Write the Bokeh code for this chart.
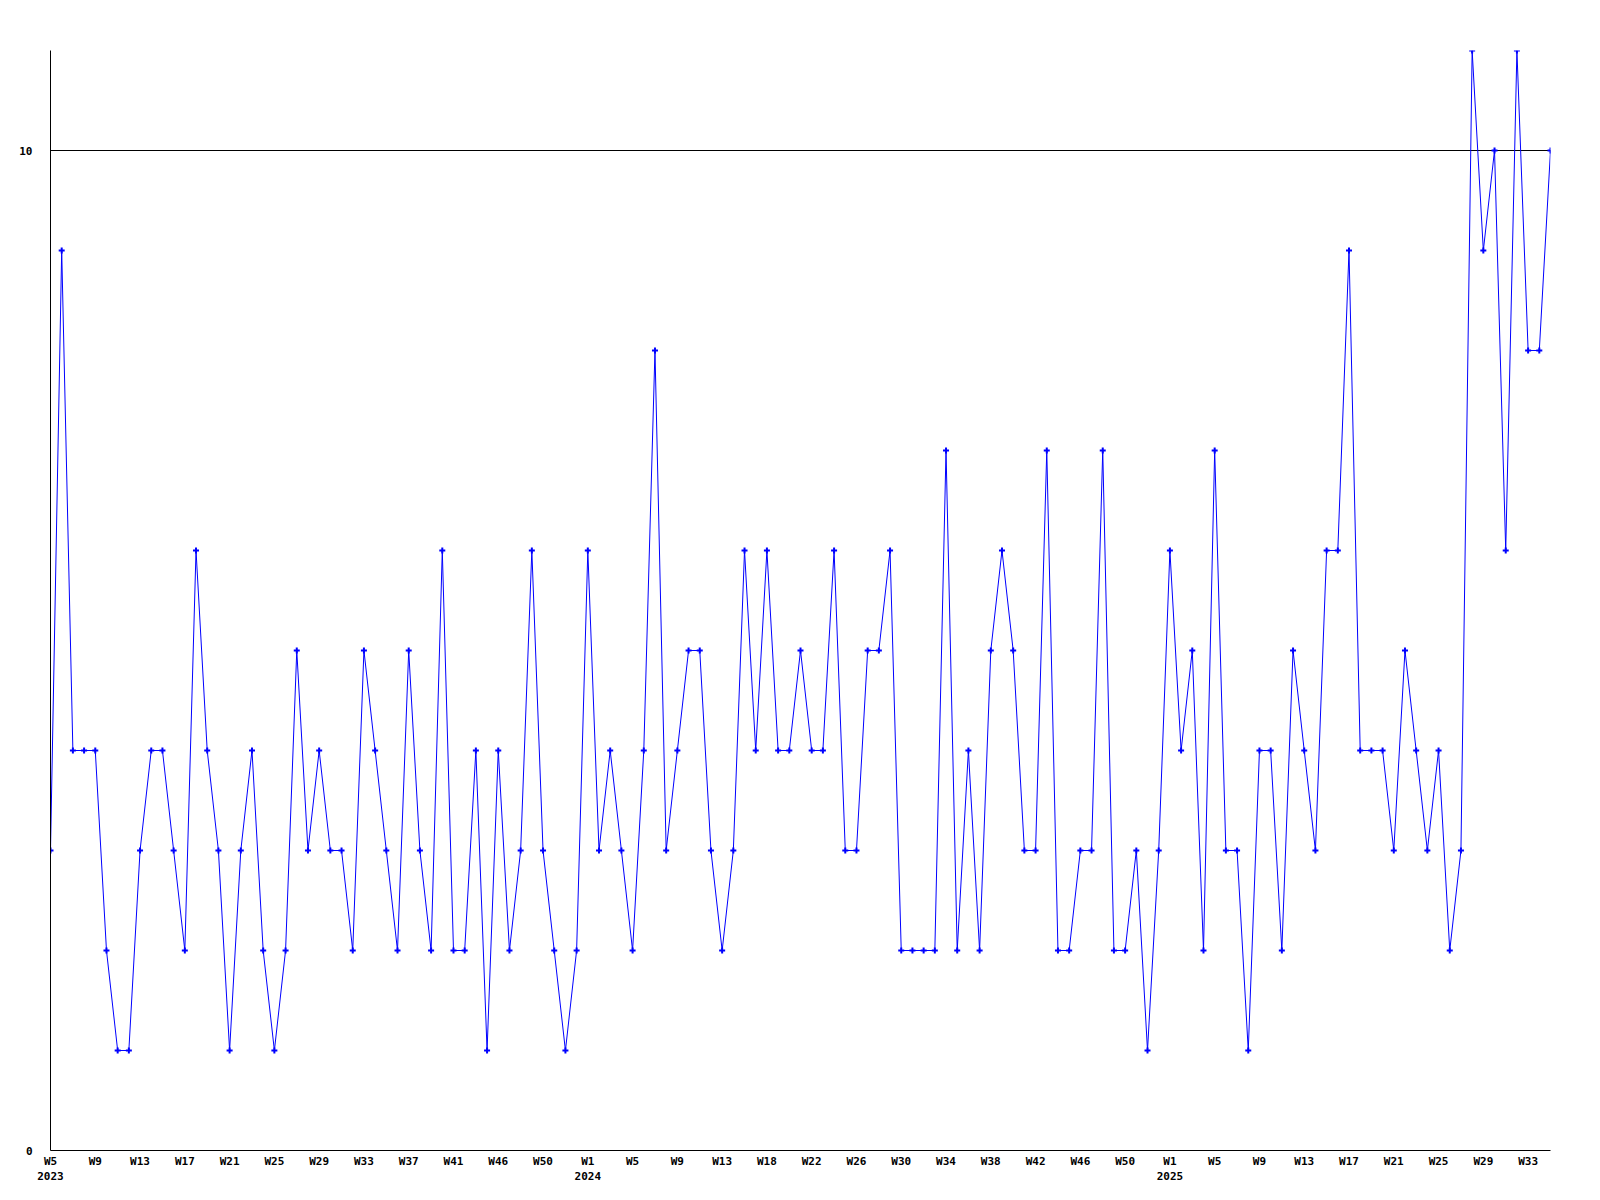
from bokeh.plotting import figure
from bokeh.models import Range1d, FixedTicker
from bokeh.embed import file_html
from bokeh.resources import INLINE

# weekly counts, one value per week starting at W5 2023
values = [3, 9, 4, 4, 4, 2, 1, 1, 3, 4, 4, 3, 2, 6, 4, 3, 1, 3, 4, 2,
          1, 2, 5, 3, 4, 3, 3, 2, 5, 4, 3, 2, 5, 3, 2, 6,
          2, 2, 4, 1, 4, 2, 3, 6, 3, 2, 1, 2, 6, 3, 4, 3, 2, 4, 8, 3,
          4, 5, 5, 3, 2, 3, 6, 4, 6, 4, 4, 5, 4, 4,
          6, 3, 3, 5, 5, 6, 2, 2, 2, 2, 7, 2, 4, 2, 5, 6, 5, 3, 3, 7,
          2, 2, 3, 3, 7, 2, 2, 3, 1, 3, 6, 4, 5, 2, 7,
          3, 3, 1, 4, 4, 2, 5, 4, 3, 6, 6, 9, 4, 4, 4, 3, 5, 4, 3, 4,
          2, 3, 11, 9, 10, 6, 11, 8, 8, 10]
weeks = list(range(len(values)))

tick_labels = ["W5\n2023", "W9", "W13", "W17", "W21", "W25", "W29", "W33", "W37", "W41", "W46", "W50",
               "W1\n2024", "W5", "W9", "W13", "W18", "W22", "W26", "W30", "W34", "W38", "W42", "W46", "W50",
               "W1\n2025", "W5", "W9", "W13", "W17", "W21", "W25", "W29", "W33"]
tick_step = 4
tick_positions = [i * tick_step for i in range(len(tick_labels))]

y_ticks = [0, 10]
y_max = 11

FONT = "DejaVu Sans Mono"

p = figure(width=1592, height=1192, output_backend="svg", toolbar_location=None,
           x_range=Range1d(0, len(values) - 1), y_range=Range1d(0, y_max),
           min_border_left=50, min_border_right=42, min_border_top=50, min_border_bottom=42)
p.outline_line_color = None
p.background_fill_color = "white"
p.border_fill_color = "white"

p.line(weeks, values, line_color="#0000ff", line_width=1)
p.scatter(weeks, values, marker="cross", size=6, line_color="#0000ff", line_width=2)

# x axis
xa = p.xaxis[0]
xa.ticker = FixedTicker(ticks=tick_positions)
xa.major_label_overrides = {t: l for t, l in zip(tick_positions, tick_labels)}
xa.major_tick_in = 0
xa.major_tick_out = 0
xa.minor_tick_in = 0
xa.minor_tick_out = 0
xa.major_label_standoff = 4
xa.axis_line_color = "black"
xa.major_label_text_font = FONT
xa.major_label_text_font_style = "bold"
xa.major_label_text_font_size = "11px"
xa.major_label_text_color = "black"

# y axis
ya = p.yaxis[0]
ya.ticker = FixedTicker(ticks=y_ticks)
ya.major_tick_in = 0
ya.major_tick_out = 0
ya.minor_tick_in = 0
ya.minor_tick_out = 0
ya.major_label_standoff = 18
ya.major_label_text_align = "left"
ya.axis_line_color = "black"
ya.major_label_text_font = FONT
ya.major_label_text_font_style = "bold"
ya.major_label_text_font_size = "11px"
ya.major_label_text_color = "black"

p.xgrid.visible = False
p.ygrid.ticker = FixedTicker(ticks=y_ticks)
p.ygrid.grid_line_color = "black"
p.ygrid.grid_line_alpha = 1.0
p.ygrid.grid_line_width = 1

open("out.html", "w").write(file_html(p, INLINE))
